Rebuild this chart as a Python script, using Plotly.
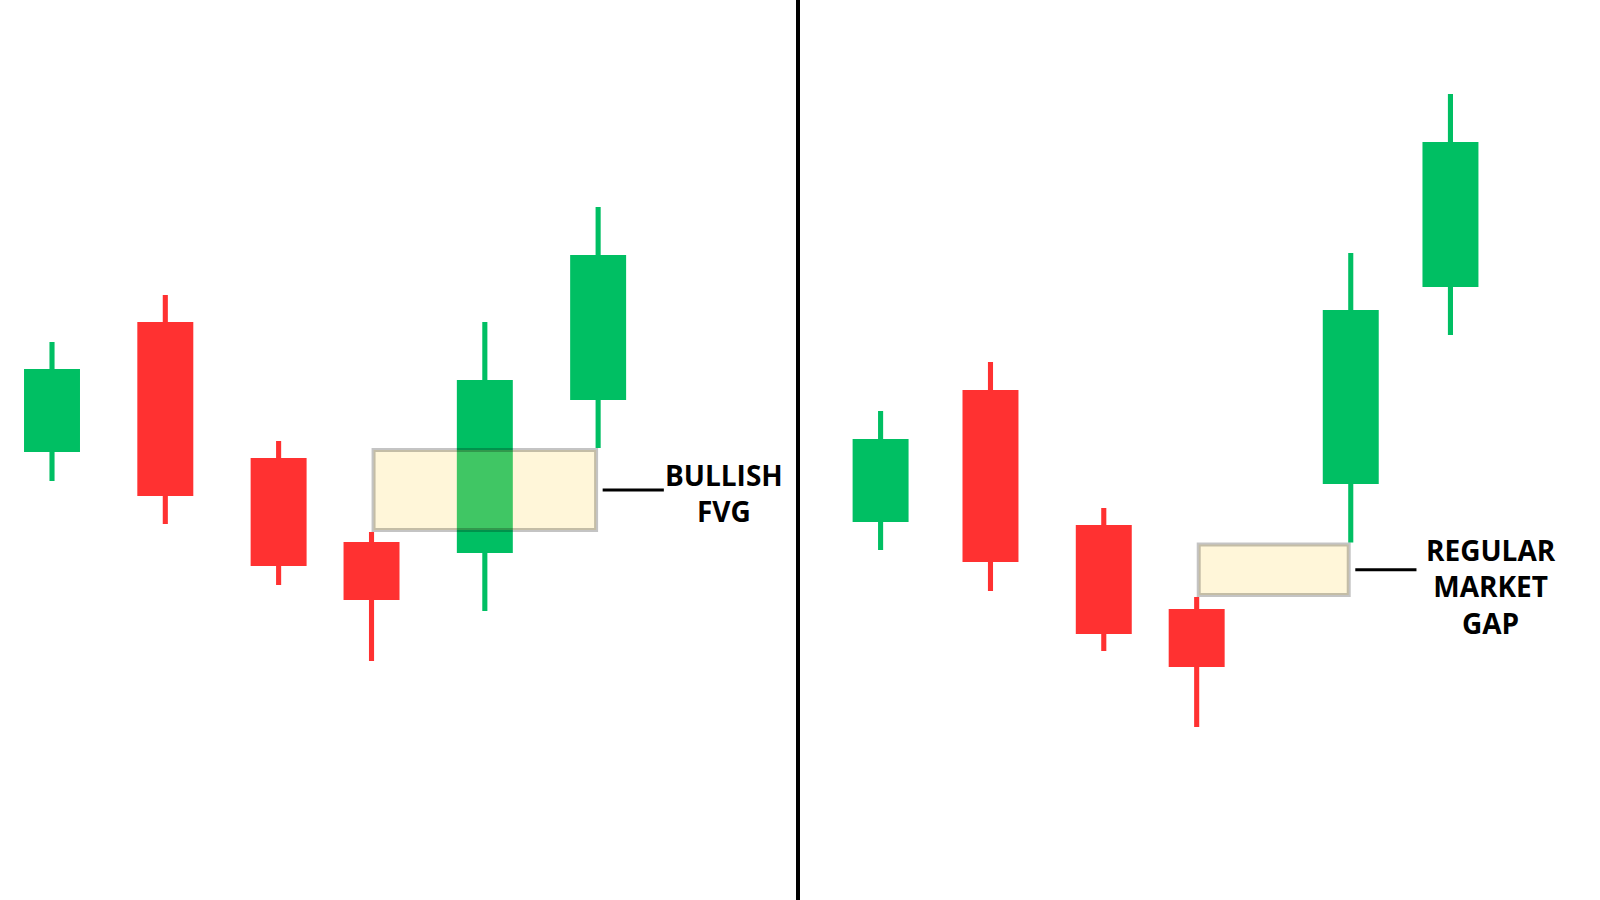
import plotly.graph_objects as go

# ---------------- data ----------------
# Left panel: bullish fair value gap
left_x = [1, 2, 3, 3.82, 4.82, 5.82]
left_open = [44.8, 57.8, 44.2, 35.8, 34.7, 50.0]
left_high = [55.8, 60.5, 45.9, 36.8, 57.8, 69.3]
left_low = [41.9, 37.6, 31.5, 23.9, 28.9, 45.2]
left_close = [53.1, 40.4, 33.4, 30.0, 52.0, 64.5]

# Right panel: regular market gap
right_x = [1, 1.97, 2.97, 3.79, 5.15, 6.03]
right_open = [37.8, 51.0, 37.5, 29.1, 41.6, 61.3]
right_high = [48.9, 53.8, 39.2, 30.3, 64.7, 80.6]
right_low = [35.0, 30.9, 24.9, 17.3, 35.75, 56.5]
right_close = [46.1, 33.8, 26.6, 23.3, 59.0, 75.8]

left_label = "BULLISH<br>FVG"
right_label = "REGULAR<br>MARKET<br>GAP"

# ---------------- style ----------------
GREEN = "#00BF63"
RED = "#FF3131"
BODY_W = 0.494
WICK_W = 0.045
BOX_FILL = "rgba(255,219,103,0.25)"
BOX_LINE = "rgba(0,0,0,0.23)"
BOX_LW = 4
INSET_X = 0.018   # half stroke, so the stroke sits inside the gap
INSET_Y = 0.2

fig = go.Figure()


def add_candles(xs, o, h, l, c, xref):
    cols = [GREEN if cc >= oo else RED for oo, cc in zip(o, c)]
    fig.add_trace(go.Bar(
        x=xs, y=[hh - ll for hh, ll in zip(h, l)], base=l,
        width=WICK_W, marker=dict(color=cols, line=dict(width=0)),
        xaxis=xref, yaxis="y", showlegend=False, hoverinfo="skip"))
    fig.add_trace(go.Bar(
        x=xs, y=[abs(cc - oo) for oo, cc in zip(o, c)],
        base=[min(oo, cc) for oo, cc in zip(o, c)],
        width=BODY_W, marker=dict(color=cols, line=dict(width=0)),
        xaxis=xref, yaxis="y", showlegend=False,
        customdata=list(zip(o, h, l, c)),
        hovertemplate="O %{customdata[0]}<br>H %{customdata[1]}<br>L %{customdata[2]}<br>C %{customdata[3]}<extra></extra>"))


add_candles(left_x, left_open, left_high, left_low, left_close, "x")
add_candles(right_x, right_open, right_high, right_low, right_close, "x2")


def add_gap(xref, x0, x1, y0, y1):
    fig.add_shape(type="rect", xref=xref, yref="y",
                  x0=x0 + INSET_X, x1=x1 - INSET_X, y0=y0 + INSET_Y, y1=y1 - INSET_Y,
                  fillcolor=BOX_FILL, line=dict(color=BOX_LINE, width=BOX_LW), layer="above")
    ym = (y0 + y1) / 2
    fig.add_shape(type="line", xref=xref, yref="y", x0=x1 + 0.04, x1=x1 + 0.58,
                  y0=ym, y1=ym, line=dict(color="black", width=3), layer="above")


# Bullish FVG: candle 4 high to candle 6 low
add_gap("x", left_x[3], left_x[5], left_high[3], left_low[5])
# Regular gap: candle 4 high to candle 5 low
add_gap("x2", right_x[3], right_x[4], right_high[3], right_low[4])

# divider
fig.add_shape(type="line", xref="paper", yref="paper", x0=0.49875, x1=0.49875,
              y0=0, y1=1, line=dict(color="black", width=4))

font = dict(family="Open Sans, Arial, sans-serif", size=28, color="black", weight=700)
fig.add_annotation(text=left_label, xref="paper", yref="paper", x=0.4524, y=0.4518,
                   xanchor="center", yanchor="middle", showarrow=False, font=font, align="center")
fig.add_annotation(text=right_label, xref="paper", yref="paper", x=0.9318, y=0.3487,
                   xanchor="center", yanchor="middle", showarrow=False, font=font, align="center")

fig.update_layout(
    width=1600, height=900,
    margin=dict(l=0, r=0, t=0, b=0),
    paper_bgcolor="white", plot_bgcolor="white",
    barmode="overlay",
    xaxis=dict(domain=[0, 0.49875], range=[0.541, 7.584], visible=False, fixedrange=True),
    xaxis2=dict(domain=[0.49875, 1], range=[0.271, 7.350], visible=False, anchor="y", fixedrange=True),
    yaxis=dict(range=[0, 90], visible=False, fixedrange=True),
    showlegend=False,
)

fig.write_html("out.html", config={"displayModeBar": False},
               post_script="document.body.style.margin='0';document.body.style.overflow='hidden';")
